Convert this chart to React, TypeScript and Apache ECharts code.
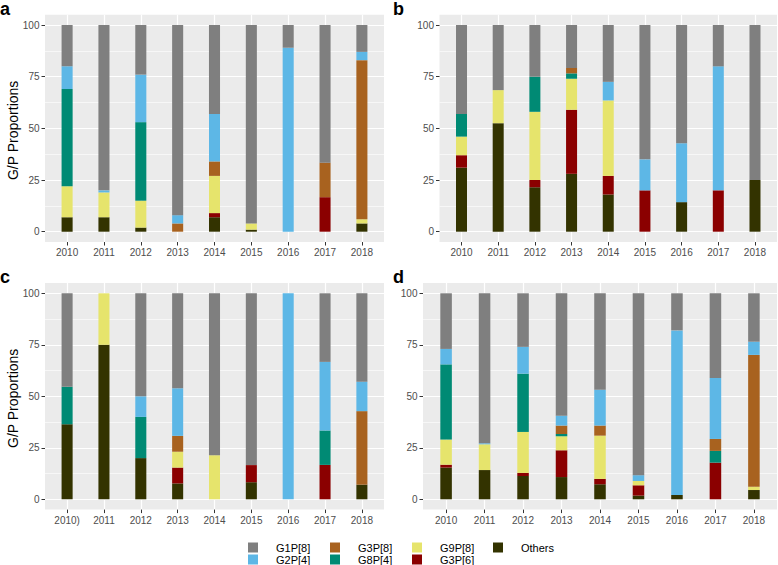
import React, { useEffect, useRef } from 'react';
import * as echarts from 'echarts';

// ---------- data ----------
const yearsAB = ['2010', '2011', '2012', '2013', '2014', '2015', '2016', '2017', '2018'];
const yearsC = ['2010)', '2011', '2012', '2013', '2014', '2015', '2016', '2017', '2018'];
const yearsD = ['2010', '2011', '2012', '2013', '2014', '2015', '2016', '2017', '2018'];
const yTicks = [0, 25, 50, 75, 100];

// legend order
const genotypes = ['G1P[8]', 'G2P[4]', 'G3P[8]', 'G8P[4]', 'G9P[8]', 'G3P[6]', 'Others'];

// panel a
const aOthers = [7, 7, 2, 0, 7, 1, 0, 0, 4];
const aG3P6 = [0, 0, 0, 0, 2, 0, 0, 16.7, 0];
const aG9P8 = [15, 12, 13, 0, 18, 3, 0, 0, 2];
const aG8P4 = [47, 0, 38, 0, 0, 0, 0, 0, 0];
const aG3P8 = [0, 0, 0, 4, 7, 0, 0, 16.7, 77];
const aG2P4 = [11, 1, 23, 4, 23, 0, 89, 0, 4];
const aG1P8 = [20, 80, 24, 92, 43, 96, 11, 66.6, 13];

// panel b
const bOthers = [31, 52.5, 21.5, 28, 18, 0, 14.3, 0, 25];
const bG3P6 = [6, 0, 3.5, 31, 9, 20, 0, 20, 0];
const bG9P8 = [9, 16, 33, 15, 36.5, 0, 0, 0, 0];
const bG8P4 = [11, 0, 17, 2.6, 0, 0, 0, 0, 0];
const bG3P8 = [0, 0, 0, 2.6, 0, 0, 0, 0, 0];
const bG2P4 = [0, 0, 0, 0, 9, 15, 28.5, 60, 0];
const bG1P8 = [43, 31.5, 25, 20.8, 27.5, 65, 57.2, 20, 75];

// panel c
const cOthers = [36.4, 75, 20, 7.7, 0, 8.3, 0, 0, 7.1];
const cG3P6 = [0, 0, 0, 7.7, 0, 8.3, 0, 16.7, 0];
const cG9P8 = [0, 25, 0, 7.7, 21.4, 0, 0, 0, 0];
const cG8P4 = [18.2, 0, 20, 0, 0, 0, 0, 16.7, 0];
const cG3P8 = [0, 0, 0, 7.7, 0, 0, 0, 0, 35.7];
const cG2P4 = [0, 0, 10, 23.1, 0, 0, 100, 33.3, 14.3];
const cG1P8 = [45.4, 0, 50, 46.1, 78.6, 83.4, 0, 33.3, 42.9];

// panel d
const dOthers = [15.4, 14.2, 11.3, 10.8, 7.3, 1.8, 2.1, 0, 4.5];
const dG3P6 = [1.4, 0, 1.5, 13, 2.6, 5, 0, 17.8, 0];
const dG9P8 = [12.2, 12.5, 19.9, 6.8, 21, 2.1, 0, 0, 1.6];
const dG8P4 = [36.5, 0, 28.3, 1.1, 0, 0, 0, 5.7, 0];
const dG3P8 = [0, 0, 0, 4.1, 4.9, 0, 0, 5.8, 64];
const dG2P4 = [7.5, 0.5, 13, 4.8, 17.4, 2.8, 79.9, 29.6, 6.4];
const dG1P8 = [27, 72.8, 26, 59.4, 46.8, 88.3, 18, 41.1, 23.5];

// ---------- styling ----------
const COLORS: Record<string, string> = {
  'G1P[8]': '#7F7F7F',
  'G2P[4]': '#5DB7E6',
  'G3P[8]': '#A8621F',
  'G8P[4]': '#008A74',
  'G9P[8]': '#E6E46C',
  'G3P[6]': '#8B0000',
  Others: '#333300',
};
const FONT = '"Liberation Sans", Arial, Helvetica, sans-serif';

// discrete scale: 9 categories, 0.6 unit expansion each side -> 9.2 units, in 0.2 steps = 46 steps
const NPTS = 47;
const isCenter = (k: number) => k % 5 === 3;

const panels = [
  {
    letter: 'a', labels: yearsAB, left: 45, width: 339, top: 25, height: 206.7, title: true,
    series: { Others: aOthers, 'G3P[6]': aG3P6, 'G9P[8]': aG9P8, 'G8P[4]': aG8P4, 'G3P[8]': aG3P8, 'G2P[4]': aG2P4, 'G1P[8]': aG1P8 },
    letterX: 0, letterY: 0,
  },
  {
    letter: 'b', labels: yearsAB, left: 439.5, width: 337.5, top: 25, height: 206.7, title: false,
    series: { Others: bOthers, 'G3P[6]': bG3P6, 'G9P[8]': bG9P8, 'G8P[4]': bG8P4, 'G3P[8]': bG3P8, 'G2P[4]': bG2P4, 'G1P[8]': bG1P8 },
    letterX: 393, letterY: 0,
  },
  {
    letter: 'c', labels: yearsC, left: 45, width: 339, top: 293.3, height: 206, title: true,
    series: { Others: cOthers, 'G3P[6]': cG3P6, 'G9P[8]': cG9P8, 'G8P[4]': cG8P4, 'G3P[8]': cG3P8, 'G2P[4]': cG2P4, 'G1P[8]': cG1P8 },
    letterX: 0, letterY: 268,
  },
  {
    letter: 'd', labels: yearsD, left: 423, width: 354, top: 293.3, height: 206, title: false,
    series: { Others: dOthers, 'G3P[6]': dG3P6, 'G9P[8]': dG9P8, 'G8P[4]': dG8P4, 'G3P[8]': dG3P8, 'G2P[4]': dG2P4, 'G1P[8]': dG1P8 },
    letterX: 393, letterY: 268,
  },
];

const stackOrder = ['Others', 'G3P[6]', 'G9P[8]', 'G8P[4]', 'G3P[8]', 'G2P[4]', 'G1P[8]'];

const legendPos: Record<string, [number, number]> = {
  'G1P[8]': [248, 542],
  'G2P[4]': [248, 554],
  'G3P[8]': [330, 542],
  'G8P[4]': [330, 554],
  'G9P[8]': [412, 542],
  'G3P[6]': [412, 554],
  Others: [493, 542],
};

function slots(labels: string[]) {
  return Array.from({ length: NPTS }, (_, k) => (isCenter(k) ? labels[(k - 3) / 5] : `_${k}`));
}
function spread(values: number[]) {
  const arr: (number | null)[] = new Array(NPTS).fill(null);
  values.forEach((v, i) => {
    arr[3 + 5 * i] = v;
  });
  return arr;
}

function buildOption() {
  const grid: any[] = [];
  const xAxis: any[] = [];
  const yAxis: any[] = [];
  const series: any[] = [];
  const graphic: any[] = [];

  panels.forEach((p, pi) => {
    const pad = p.height * 0.05;
    const cats = slots(p.labels);
    // background grid (full panel incl. expansion)
    grid.push({
      left: p.left, top: p.top - pad, width: p.width, height: p.height + 2 * pad,
      show: true, backgroundColor: '#EBEBEB', borderWidth: 0,
    });
    // data grid
    grid.push({ left: p.left, top: p.top, width: p.width, height: p.height, show: false });

    xAxis.push({
      type: 'category', gridIndex: 2 * pi, data: cats, boundaryGap: false,
      axisLine: { show: false },
      axisTick: { show: true, interval: (k: number) => isCenter(k), length: 3.5, lineStyle: { color: '#333333', width: 1 } },
      axisLabel: {
        interval: (k: number) => isCenter(k),
        formatter: (v: string) => (v.startsWith('_') ? '' : v),
        color: '#4D4D4D', fontSize: 10, margin: 5.5, fontFamily: FONT,
      },
      splitLine: { show: true, interval: (k: number) => isCenter(k), lineStyle: { color: '#FFFFFF', width: 1.2 } },
    });
    xAxis.push({ type: 'category', gridIndex: 2 * pi + 1, data: cats, boundaryGap: false, show: false });

    yAxis.push({ type: 'value', gridIndex: 2 * pi, min: 0, max: 100, show: false });
    yAxis.push({
      type: 'value', gridIndex: 2 * pi + 1, min: yTicks[0], max: yTicks[yTicks.length - 1], interval: 25,
      axisLine: { show: false },
      axisTick: { show: true, length: 3.5, lineStyle: { color: '#333333', width: 1 } },
      axisLabel: { color: '#4D4D4D', fontSize: 10, margin: 5.5, fontFamily: FONT },
      splitLine: { show: true, lineStyle: { color: '#FFFFFF', width: 1.2 } },
      minorTick: { show: false, splitNumber: 2 },
      minorSplitLine: { show: true, lineStyle: { color: '#FFFFFF', width: 0.6 } },
    });

    const barW = (0.3 * p.width) / 9.2;
    stackOrder.forEach((g) => {
      series.push({
        type: 'bar', name: g, xAxisIndex: 2 * pi + 1, yAxisIndex: 2 * pi + 1,
        stack: 'panel' + pi, data: spread((p.series as any)[g]), barWidth: barW,
        itemStyle: { color: COLORS[g] }, silent: true, emphasis: { disabled: true },
      });
    });

    graphic.push({
      type: 'text', left: p.letterX, top: p.letterY,
      style: { text: p.letter, font: `bold 18px ${FONT}`, fill: '#000000' },
    });
    if (p.title) {
      graphic.push({
        type: 'text', x: 13, y: p.top + p.height / 2 + 2, rotation: Math.PI / 2,
        style: {
          text: 'G/P Proportions', font: `14px ${FONT}`, fill: '#000000',
          align: 'center', verticalAlign: 'middle',
        },
      });
    }
  });

  const legend = genotypes.map((g) => ({
    data: [g], left: legendPos[g][0], top: legendPos[g][1],
    itemWidth: 10, itemHeight: 10, icon: 'rect', selectedMode: false,
    padding: 0,
    textStyle: { fontSize: 11, color: '#000000', fontFamily: FONT, padding: [0, 0, 0, 13] },
  }));

  return {
    animation: false,
    textStyle: { fontFamily: FONT },
    grid, xAxis, yAxis, series, legend, graphic,
  };
}

export default function App() {
  const ref = useRef<HTMLDivElement>(null);
  useEffect(() => {
    if (!ref.current) return;
    const chart = echarts.init(ref.current, undefined, { renderer: 'svg' });
    chart.setOption(buildOption() as any);
    return () => chart.dispose();
  }, []);
  return (
    <div
      ref={ref}
      style={{ position: 'absolute', left: 0, top: 0, width: 778, height: 565, background: '#FFFFFF' }}
    />
  );
}
